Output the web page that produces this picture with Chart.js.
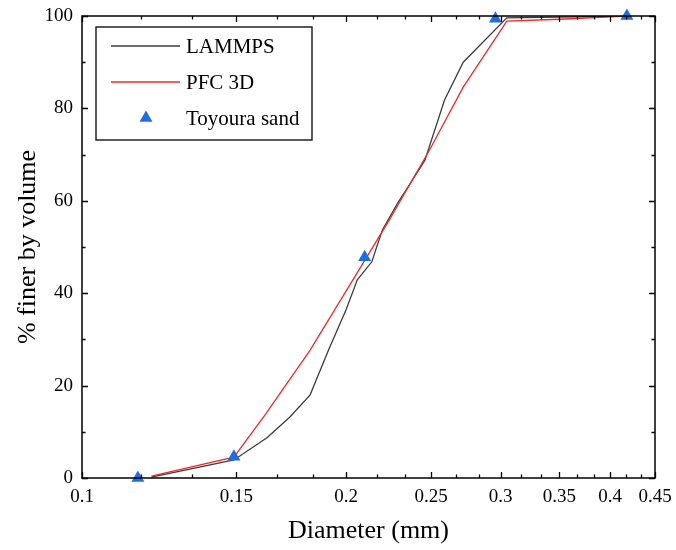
<!DOCTYPE html>
<html>
<head>
<meta charset="utf-8">
<script src="https://cdn.jsdelivr.net/npm/chart.js@4/dist/chart.umd.min.js"></script>
<style>
  body { margin: 0; background: #fff; }
  #chart { display: block; }
</style>
</head>
<body>
<canvas id="chart" width="676" height="550"></canvas>
<script>
// x axis ticks (log scale)
const xMajorTicks = [0.1, 0.15, 0.2, 0.25, 0.3, 0.35, 0.4, 0.45];
const xTickLabels = ['0.1', '0.15', '0.2', '0.25', '0.3', '0.35', '0.4', '0.45'];
const yMajorTicks = [0, 20, 40, 60, 80, 100];
const yMinorTicks = [10, 30, 50, 70, 90];

// LAMMPS gradation curve
const lammpsDiameter = [0.120, 0.149, 0.1625, 0.1726, 0.182, 0.191, 0.200, 0.206, 0.214, 0.220, 0.229, 0.235, 0.246, 0.259, 0.272, 0.305, 0.418];
const lammpsFiner = [0.2, 3.9, 8.7, 13.2, 18.0, 27.7, 36.4, 42.9, 46.8, 53.7, 59.5, 62.8, 68.8, 81.8, 90.0, 99.6, 100];

// PFC 3D gradation curve
const pfcDiameter = [0.120, 0.149, 0.162, 0.182, 0.202, 0.224, 0.249, 0.272, 0.305, 0.350, 0.418];
const pfcFiner = [0.4, 4.5, 13.9, 27.7, 41.8, 55.8, 71.0, 84.6, 98.9, 99.3, 100];

// Toyoura sand measured points
const sandDiameter = [0.1158, 0.149, 0.210, 0.296, 0.418];
const sandFiner = [0, 4.6, 47.8, 99.4, 100];

const toPoints = (xs, ys) => xs.map((x, i) => ({ x: x, y: ys[i] }));

// minor x ticks at thirds between majors
let xMinorTicks = [];
for (let i = 0; i < xMajorTicks.length - 1; i++) {
  const step = (xMajorTicks[i + 1] - xMajorTicks[i]) / 3;
  xMinorTicks.push(xMajorTicks[i] + step, xMajorTicks[i] + 2 * step);
}

const serif = "'Liberation Serif', 'Times New Roman', serif";

// frame + inward tick marks on all four sides
const framePlugin = {
  id: 'frame',
  afterDatasetsDraw(chart) {
    const { ctx, chartArea: a, scales } = chart;
    ctx.save();
    ctx.strokeStyle = '#000';
    ctx.lineWidth = 1.5;
    ctx.strokeRect(a.left, a.top, a.right - a.left, a.bottom - a.top);
    ctx.lineWidth = 1.3;
    ctx.beginPath();
    const xt = (vals, len) => vals.forEach(v => {
      const px = Math.round(scales.x.getPixelForValue(v)) + 0.5;
      ctx.moveTo(px, a.bottom); ctx.lineTo(px, a.bottom - len);
      ctx.moveTo(px, a.top); ctx.lineTo(px, a.top + len);
    });
    const yt = (vals, len) => vals.forEach(v => {
      const py = Math.round(scales.y.getPixelForValue(v)) + 0.5;
      ctx.moveTo(a.left, py); ctx.lineTo(a.left + len, py);
      ctx.moveTo(a.right, py); ctx.lineTo(a.right - len, py);
    });
    xt(xMajorTicks, 6);
    xt(xMinorTicks, 3.5);
    yt(yMajorTicks, 6);
    yt(yMinorTicks, 3.5);
    ctx.stroke();
    ctx.restore();
  }
};

// boxed legend inside the plot area
const legendPlugin = {
  id: 'boxLegend',
  afterDraw(chart) {
    const { ctx, chartArea: a } = chart;
    const x0 = a.left + 14, y0 = a.top + 11, w = 216, h = 113;
    ctx.save();
    ctx.strokeStyle = '#000';
    ctx.lineWidth = 1.3;
    ctx.strokeRect(x0, y0, w, h);
    ctx.font = '21px ' + serif;
    ctx.fillStyle = '#000';
    ctx.textBaseline = 'middle';
    const ds = chart.data.datasets;
    const rows = [19, 55, 91];
    ds.forEach((d, i) => {
      const y = y0 + rows[i];
      if (d.showLine) {
        ctx.strokeStyle = d.borderColor;
        ctx.lineWidth = d.borderWidth;
        ctx.beginPath();
        ctx.moveTo(x0 + 15, y);
        ctx.lineTo(x0 + 84, y);
        ctx.stroke();
      } else {
        ctx.fillStyle = d.backgroundColor;
        ctx.beginPath();
        const r = d.pointRadius, cx = x0 + 50;
        ctx.moveTo(cx, y - r);
        ctx.lineTo(cx + r * Math.sin(2 * Math.PI / 3), y + r / 2);
        ctx.lineTo(cx - r * Math.sin(2 * Math.PI / 3), y + r / 2);
        ctx.closePath();
        ctx.fill();
        ctx.fillStyle = '#000';
      }
      ctx.fillText(d.label, x0 + 90, y + 1);
    });
    ctx.restore();
  }
};

const data = {
  datasets: [
    {
      label: 'LAMMPS',
      data: toPoints(lammpsDiameter, lammpsFiner),
      showLine: true,
      borderColor: 'rgb(60, 60, 60)',
      borderWidth: 1.3,
      pointRadius: 0,
      tension: 0,
      order: 2,
    },
    {
      label: 'PFC 3D',
      data: toPoints(pfcDiameter, pfcFiner),
      showLine: true,
      borderColor: 'rgb(240, 40, 40)',
      borderWidth: 1.3,
      pointRadius: 0,
      tension: 0,
      order: 1,
    },
    {
      label: 'Toyoura sand',
      data: toPoints(sandDiameter, sandFiner),
      showLine: false,
      pointStyle: 'triangle',
      pointRadius: 7.5,
      backgroundColor: 'rgb(30, 110, 225)',
      borderColor: 'rgb(30, 110, 225)',
      borderWidth: 0,
      clip: false,
      order: 0,
    },
  ],
};

const config = {
  type: 'scatter',
  data: data,
  options: {
    responsive: false,
    animation: false,
    layout: { padding: { top: 16, right: 21, left: 0, bottom: 0 } },
    plugins: {
      legend: { display: false },
      tooltip: { enabled: false },
    },
    scales: {
      x: {
        type: 'logarithmic',
        min: 0.1,
        max: 0.45,
        afterBuildTicks: (scale) => {
          scale.ticks = xMajorTicks.map(v => ({ value: v }));
        },
        afterFit: (scale) => {
          scale.height = 72;
          scale.paddingLeft = 0;
          scale.paddingRight = 0;
        },
        grid: { display: false, drawTicks: false },
        border: { display: false },
        ticks: {
          autoSkip: false,
          maxRotation: 0,
          padding: 8,
          color: '#000',
          font: { family: serif, size: 19 },
          callback: (value, index) => xTickLabels[index],
        },
        title: {
          display: true,
          text: 'Diameter (mm)',
          color: '#000',
          font: { family: serif, size: 26 },
          padding: { top: 0, bottom: 3 },
        },
      },
      y: {
        min: 0,
        max: 100,
        afterBuildTicks: (scale) => {
          scale.ticks = yMajorTicks.map(v => ({ value: v }));
        },
        afterFit: (scale) => {
          scale.width = 82;
          scale.paddingTop = 0;
          scale.paddingBottom = 0;
        },
        grid: { display: false, drawTicks: false },
        border: { display: false },
        ticks: {
          padding: 9,
          color: '#000',
          font: { family: serif, size: 19 },
        },
        title: {
          display: true,
          text: '% finer by volume',
          color: '#000',
          font: { family: serif, size: 26 },
          padding: { top: 13, bottom: 0 },
        },
      },
    },
  },
  plugins: [framePlugin, legendPlugin],
};

new Chart(document.getElementById('chart'), config);
</script>
</body>
</html>
